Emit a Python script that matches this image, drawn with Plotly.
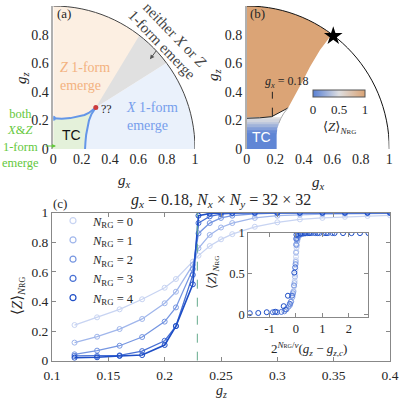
import plotly.graph_objects as go

W = H = 399
def px(p): return p / W
def py(p): return 1 - p / H

SERIF = "Liberation Serif, DejaVu Serif, serif"
SANS = "Liberation Sans, Arial, sans-serif"
TXT = "#262626"

# ---------------- panel (a): phase diagram boundaries ----------------
tc_up_x = [0.0, 0.06, 0.12, 0.18, 0.22, 0.25, 0.275, 0.30]
tc_up_y = [0.215, 0.212, 0.216, 0.226, 0.238, 0.252, 0.268, 0.29]
tc_rt_x = [0.30, 0.27, 0.252, 0.24, 0.232, 0.227, 0.224]
tc_rt_y = [0.29, 0.245, 0.20, 0.15, 0.10, 0.05, 0.0]
wedge_x = [0.30, 0.80, 1.10]
wedge_y = [0.29, 1.11, 0.79]
crit_x = [0.30]
crit_y = [0.29]

# ---------------- panel (b): numerics map boundaries ----------------
tcb_up_x = [0.0, 0.09, 0.175, 0.23, 0.29]
tcb_up_y = [0.215, 0.218, 0.226, 0.255, 0.287]
tcb_rt_x = [0.29, 0.26, 0.24, 0.225, 0.215, 0.21, 0.21]
tcb_rt_y = [0.287, 0.25, 0.215, 0.18, 0.145, 0.10, 0.0]
zedge_x = [0.29, 0.33, 0.39, 0.444, 0.514, 0.584, 0.66]
zedge_y = [0.287, 0.36, 0.47, 0.576, 0.692, 0.785, 0.90]
hm_x_edges = [0.0, 0.32]
hm_y_edges = [0.0, 0.11, 0.13, 0.15, 0.17, 0.19, 0.205, 0.222]
hm_z = [[0.03], [0.07], [0.16], [0.27], [0.37], [0.45], [0.5]]
star_x = [0.607]
star_y = [0.79]
gx_cut = 0.18

# ---------------- panel (c): <Z> vs g_z ----------------
gz = [0.12, 0.14, 0.16, 0.18, 0.20, 0.21, 0.225, 0.23, 0.24, 0.25, 0.26,
      0.28, 0.30, 0.32, 0.34, 0.36, 0.38, 0.40]
Z_N0 = [0.241, 0.293, 0.347, 0.415, 0.493, 0.552, 0.669, 0.71, 0.775, 0.82, 0.855,
        0.905, 0.935, 0.955, 0.965, 0.972, 0.978, 0.982]
Z_N1 = [0.122, 0.162, 0.214, 0.282, 0.388, 0.466, 0.647, 0.76, 0.85, 0.90, 0.93,
        0.965, 0.98, 0.987, 0.99, 0.993, 0.995, 0.996]
Z_N2 = [0.043, 0.068, 0.101, 0.160, 0.264, 0.360, 0.620, 0.86, 0.93, 0.965, 0.98,
        0.993, 0.997, 0.998, 0.999, 1.0, 1.0, 1.0]
Z_N3 = [0.032, 0.032, 0.036, 0.065, 0.135, 0.234, 0.580, 0.93, 0.975, 0.99, 0.996,
        1.0, 1.0, 1.0, 1.0, 1.0, 1.0, 1.0]
Z_N4 = [0.020, 0.023, 0.032, 0.038, 0.106, 0.234, 0.516, 0.98, 0.995, 1.0, 1.0,
        1.0, 1.0, 1.0, 1.0, 1.0, 1.0, 1.0]
series = [Z_N0, Z_N1, Z_N2, Z_N3, Z_N4]
N_rg = [0, 1, 2, 3, 4]
colors = ["rgb(200,212,242)", "rgb(160,182,235)", "rgb(118,150,225)",
          "rgb(72,112,212)", "rgb(30,78,198)"]
gz_c = 0.229
nu = 1.0

fig = go.Figure()

# ---------- (a) traces ----------
fig.add_trace(go.Scatter(x=tc_up_x, y=tc_up_y, mode="lines",
                         line=dict(color="rgb(100,150,232)", width=2),
                         xaxis="x", yaxis="y", showlegend=False))
fig.add_trace(go.Scatter(x=tc_rt_x, y=tc_rt_y, mode="lines",
                         line=dict(color="rgb(100,150,232)", width=2),
                         xaxis="x", yaxis="y", showlegend=False))
fig.add_trace(go.Scatter(x=[tc_up_x[0]], y=[tc_up_y[0]], mode="markers",
                         marker=dict(color="rgb(100,150,232)", size=5),
                         xaxis="x", yaxis="y", showlegend=False))
fig.add_trace(go.Scatter(x=crit_x, y=crit_y, mode="markers",
                         marker=dict(color="rgb(205,60,60)", size=5),
                         xaxis="x", yaxis="y", showlegend=False))

# ---------- (b) traces ----------
fig.add_trace(go.Heatmap(x=hm_x_edges, y=hm_y_edges, z=hm_z, zmin=0, zmax=1,
                         xaxis="x2", yaxis="y2",
                         colorscale=[[0, "rgb(88,128,212)"], [0.5, "rgb(222,222,224)"],
                                     [1, "rgb(218,163,116)"]],
                         colorbar=dict(orientation="h", thickness=7, thicknessmode="pixels",
                                       len=52, lenmode="pixels", x=px(339), xanchor="center",
                                       y=py(90), yanchor="top", xpad=0, ypad=0,
                                       tickvals=[0, 0.5, 1], ticktext=["0", "0.5", "1"],
                                       ticks="", tickfont=dict(family=SERIF, size=13, color=TXT),
                                       outlinewidth=1, outlinecolor="#555")))
cover_x = tcb_rt_x + [0.4, 0.4]
cover_y = tcb_rt_y + [0.0, tcb_rt_y[0]]
fig.add_trace(go.Scatter(x=cover_x, y=cover_y, mode="lines", fill="toself",
                         fillcolor="white", line=dict(width=0, color="white"),
                         xaxis="x2", yaxis="y2", showlegend=False))
fig.add_trace(go.Scatter(x=tcb_up_x, y=tcb_up_y, mode="lines",
                         line=dict(color="#222", width=1), xaxis="x2", yaxis="y2",
                         showlegend=False))
fig.add_trace(go.Scatter(x=tcb_rt_x[:4], y=tcb_rt_y[:4], mode="lines",
                         line=dict(color="#aaa", width=1), xaxis="x2", yaxis="y2",
                         showlegend=False))
fig.add_trace(go.Scatter(x=[gx_cut, gx_cut], y=[0.226, 0.40], mode="lines",
                         line=dict(color="#222", width=1, dash="dash"),
                         xaxis="x2", yaxis="y2", showlegend=False))
fig.add_trace(go.Scatter(x=star_x, y=star_y, mode="markers",
                         marker=dict(symbol="star", color="black", size=14),
                         xaxis="x2", yaxis="y2", showlegend=False))

# ---------- (c) traces ----------
for n, ys, c in zip(N_rg, series, colors):
    fig.add_trace(go.Scatter(x=gz, y=ys, mode="lines+markers",
                             line=dict(color=c, width=1.6 if n == 4 else 1.3),
                             marker=dict(symbol="circle-open", size=5, color=c,
                                         line=dict(width=1)),
                             xaxis="x3", yaxis="y3", showlegend=False))
for n, c in zip(N_rg, colors):
    fig.add_trace(go.Scatter(x=[None], y=[None], mode="markers",
                             marker=dict(symbol="circle-open", size=6, color=c,
                                         line=dict(width=1.2)),
                             name=f"<i>N</i><sub>RG</sub> = {n}",
                             xaxis="x3", yaxis="y3", showlegend=True))
fig.add_trace(go.Scatter(x=[gz_c, gz_c], y=[0, 1], mode="lines",
                         line=dict(color="rgb(100,170,140)", width=1, dash="dash"),
                         xaxis="x3", yaxis="y3", showlegend=False))
# inset: scaling collapse
for n, ys, c in zip(N_rg, series, colors):
    xs = [2 ** (n / nu) * (g - gz_c) for g in gz]
    fig.add_trace(go.Scatter(x=xs, y=ys, mode="markers",
                             marker=dict(symbol="circle-open", size=5, color=c,
                                         line=dict(width=1)),
                             xaxis="x4", yaxis="y4", showlegend=False))

# ---------- shapes ----------
def path(xs, ys, close=True):
    s = "M " + " L ".join(f"{x},{y}" for x, y in zip(xs, ys))
    return s + (" Z" if close else "")

ARC = "M 1,0 C 1,0.5523 0.5523,1 0,1"
MASK = ARC + " L 0,1.3 L 1.3,1.3 L 1.3,0 Z"
shapes = []
# (a)
shapes.append(dict(type="rect", xref="x", yref="y", x0=0, y0=0, x1=1.3, y1=1.3,
                   fillcolor="rgb(252,239,226)", line=dict(width=0), layer="below"))
shapes.append(dict(type="path", xref="x", yref="y", path=path(wedge_x, wedge_y),
                   fillcolor="rgb(224,224,224)", line=dict(width=0), layer="below"))
xreg_x = tc_rt_x + [1.3, 1.3, wedge_x[2]]
xreg_y = tc_rt_y + [0.0, wedge_y[2], wedge_y[2]]
shapes.append(dict(type="path", xref="x", yref="y", path=path(xreg_x, xreg_y),
                   fillcolor="rgb(234,241,251)", line=dict(width=0), layer="below"))
tcreg_x = [0.0] + tc_up_x + tc_rt_x[1:]
tcreg_y = [0.0] + tc_up_y + tc_rt_y[1:]
shapes.append(dict(type="path", xref="x", yref="y", path=path(tcreg_x, tcreg_y),
                   fillcolor="rgb(228,241,218)", line=dict(width=0), layer="below"))
shapes.append(dict(type="path", xref="x", yref="y", path=MASK, fillcolor="white",
                   line=dict(width=0), layer="below"))
shapes.append(dict(type="path", xref="x", yref="y", path=ARC,
                   line=dict(color="#444", width=1), layer="below"))
# (b)
zreg_x = tcb_up_x + zedge_x[1:] + [zedge_x[-1], 0.0]
zreg_y = tcb_up_y + zedge_y[1:] + [1.3, 1.3]
shapes.append(dict(type="path", xref="x2", yref="y2", path=path(zreg_x, zreg_y),
                   fillcolor="rgb(219,164,118)", line=dict(width=0), layer="below"))
shapes.append(dict(type="path", xref="x2", yref="y2", path=MASK, fillcolor="white",
                   line=dict(width=0), layer="below"))
shapes.append(dict(type="path", xref="x2", yref="y2", path=ARC,
                   line=dict(color="#111", width=1), layer="below"))
# inset background
shapes.append(dict(type="rect", xref="x4", yref="y4", x0=-1.8, x1=2.73, y0=-0.03, y1=1.005,
                   fillcolor="white", line=dict(width=0), layer="below"))

# ---------- annotations ----------
ann = []
def A(text, x, y, xref="paper", yref="paper", size=13, color=TXT, family=SERIF,
      angle=0, xanchor="center", yanchor="middle", align="center"):
    ann.append(dict(text=text, x=x, y=y, xref=xref, yref=yref, showarrow=False,
                    font=dict(family=family, size=size, color=color), textangle=angle,
                    xanchor=xanchor, yanchor=yanchor, align=align))

# (a)
A("(a)", 0.01, 0.945, "x", "y", size=13, xanchor="left")
A("<i>Z</i> 1-form<br>emerge", 0.035, 0.51, "x", "y", size=14,
  color="rgb(243,178,128)", xanchor="left", align="left")
A("<i>X</i> 1-form<br>emerge", 0.50, 0.227, "x", "y", size=14,
  color="rgb(118,158,236)", xanchor="left", align="left")
A("TC", 0.13, 0.10, "x", "y", size=14, family=SANS, color="#111")
A("??", 0.375, 0.28, "x", "y", size=12, color="#222")
A("neither <i>X</i> or <i>Z</i>", px(175), py(35), size=15, color="#444", angle=46)
A("1-form emerge", px(162), py(45), size=15, color="#444", angle=46)
A("both<br><i>X</i>&amp;<i>Z</i><br>1-form<br>emerge", px(20), py(138.5), size=12.5,
  color="rgb(100,200,60)")
ann.append(dict(x=0.682, y=0.627, ax=0.734, ay=0.697, xref="x", yref="y", axref="x",
                ayref="y", showarrow=True, arrowhead=2, arrowsize=0.9, arrowwidth=1,
                arrowcolor="#555", text=""))
ann.append(dict(x=px(56), y=py(146), ax=-12, ay=0, xref="paper", yref="paper",
                showarrow=True, arrowhead=2, arrowsize=0.8, arrowwidth=1,
                arrowcolor="rgb(100,200,60)", text=""))
A("<i>g<sub>z</sub></i>", px(22), py(78), size=15, angle=-90)
A("<i>g<sub>x</sub></i>", px(124), py(181), size=15)
# (b)
A("(b)", 0.01, 0.945, "x2", "y2", size=13, xanchor="left")
A("<i>g<sub>x</sub></i> = 0.18", 0.286, 0.47, "x2", "y2", size=12)
A("TC", 0.105, 0.086, "x2", "y2", size=14, family=SANS, color="white")
A("⟨<i>Z</i>⟩<sub><i>N</i><span style='font-size:7px'>RG</span></sub>", px(339), py(127),
  size=13)
A("<i>g<sub>z</sub></i>", px(214), py(75), size=15, angle=-90)
A("<i>g<sub>x</sub></i>", px(318), py(183), size=15)
# (c)
A("(c)", px(60), py(203), size=13)
A("<i>g<sub>x</sub></i> = 0.18, <i>N<sub>x</sub></i> × <i>N<sub>y</sub></i> = 32 × 32",
  px(221), py(200), size=16)
A("⟨<i>Z</i>⟩<sub><i>N</i><span style='font-size:8px'>RG</span></sub>", px(18), py(296),
  size=15, angle=-90)
A("<i>g<sub>z</sub></i>", px(221), py(391), size=14)
A("⟨<i>Z</i>⟩<sub><i>N</i><span style='font-size:7px'>RG</span></sub>", px(212), py(273),
  size=13, angle=-90)
A("2<sup><i>N</i><span style='font-size:6px'>RG</span>/<i>ν</i></sup>(<i>g<sub>z</sub></i> − <i>g</i><sub><i>z</i>,<i>c</i></sub>)",
  px(309), py(349), size=13)

tickf = dict(family=SERIF, size=14, color=TXT)
tickc = dict(family=SERIF, size=13.5, color=TXT)
ticki = dict(family=SERIF, size=12.5, color=TXT)
t01 = [0, 0.2, 0.4, 0.6, 0.8, 1]
t01s = ["0", "0.2", "0.4", "0.6", "0.8", "1"]

def phase_x(dom):
    return dict(domain=dom, range=[0, 1], tickvals=t01, ticktext=t01s, ticks="",
                showline=False, showgrid=False, zeroline=False, tickfont=tickf)

def phase_y(dom, anchor):
    return dict(domain=dom, range=[0, 1], tickvals=t01, ticktext=t01s, ticks="",
                showline=True, linecolor="#b0b0b0", linewidth=1.5, showgrid=False,
                zeroline=False, tickfont=tickf, anchor=anchor)

box = dict(showline=True, mirror="ticks", ticks="inside", ticklen=4, linecolor="#888",
           tickcolor="#888", linewidth=1, showgrid=False, zeroline=False)

fig.update_layout(
    width=W, height=H, template="none",
    margin=dict(l=0, r=0, t=0, b=0, pad=0, autoexpand=False),
    paper_bgcolor="white", plot_bgcolor="rgba(0,0,0,0)",
    xaxis=dict(**phase_x([px(53.3), px(195)]), anchor="y"),
    yaxis=phase_y([py(149), py(6)], "x"),
    xaxis2=dict(**phase_x([px(246.7), px(389.3)]), anchor="y2"),
    yaxis2=phase_y([py(149), py(6)], "x2"),
    xaxis3=dict(**box, domain=[px(52), px(390)], range=[0.1, 0.4], anchor="y3",
                tickvals=[0.1, 0.15, 0.2, 0.25, 0.3, 0.35, 0.4],
                ticktext=["0.1", "0.15", "0.2", "0.25", "0.3", "0.35", "0.4"], tickfont=tickc,
                ticklabelstandoff=2),
    yaxis3=dict(**box, domain=[py(360.7), py(212.7)], range=[0, 1], anchor="x3",
                tickvals=t01, ticktext=t01s, tickfont=tickc),
    xaxis4=dict(**box, domain=[px(248.3), px(368.3)], range=[-1.8, 2.73], anchor="y4",
                tickvals=[-1, 0, 1, 2], ticktext=["-1", "0", "1", "2"], tickfont=ticki),
    yaxis4=dict(**box, domain=[py(317.3), py(232.7)], range=[-0.03, 1.005], anchor="x4",
                tickvals=[0, 0.5, 1], ticktext=["0", "0.5", "1"], tickfont=ticki),
    legend=dict(x=px(53), y=py(206), xanchor="left", yanchor="top",
                bgcolor="rgba(0,0,0,0)", font=dict(family=SERIF, size=12.5, color=TXT),
                itemwidth=30, borderwidth=0),
    shapes=shapes, annotations=ann,
)

fig.write_html("out.html", config={"displayModeBar": False},
               post_script="document.body.style.margin='0px';document.body.style.overflow='hidden';")
